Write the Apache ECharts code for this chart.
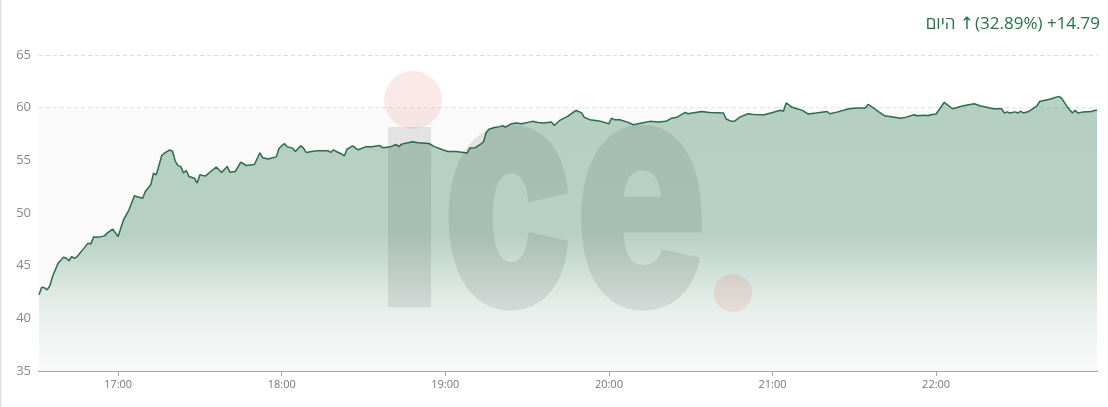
<!DOCTYPE html>
<html>
<head>
<meta charset="utf-8">
<script src="https://cdn.jsdelivr.net/npm/echarts@6/dist/echarts.min.js"></script>
<style>
html,body{margin:0;padding:0;background:#fff;}
#chart{width:1108px;height:407px;}
</style>
</head>
<body>
<div id="chart"></div>
<script>
const titleWord = 'היום';
const titleArrow = '↑';
const titleChange = '(32.89%) +14.79';
const tickLabels = ['17:00','18:00','19:00','20:00','21:00','22:00'];
const yTicks = [35, 40, 45, 50, 55, 60, 65];
const times = [
'16:31','16:32','16:33','16:34','16:35','16:36','16:38','16:40','16:41','16:42','16:43','16:44','16:45','16:47','16:49','16:50','16:51','16:53','16:55','16:56','16:58',
'17:00','17:02','17:04','17:06','17:07','17:09','17:10','17:12','17:13','17:14','17:16','17:17','17:19','17:20','17:21','17:22','17:23','17:24','17:25','17:26','17:28','17:29','17:30','17:32','17:34','17:36','17:38','17:40','17:41','17:43','17:45','17:47','17:50','17:52','17:53','17:55','17:58','17:59',
'18:01','18:02','18:04','18:05','18:07','18:08','18:09','18:11','18:13','18:17','18:18','18:19','18:20','18:22','18:23','18:24','18:26','18:28','18:31','18:33','18:36','18:37','18:40','18:42','18:43','18:44','18:48','18:50','18:54','18:56','18:59',
'19:01','19:04','19:08','19:09','19:11','19:13','19:14','19:15','19:16','19:18','19:20','19:21','19:22','19:24','19:26','19:28','19:32','19:34','19:36','19:39','19:40','19:42','19:45','19:47','19:48','19:50','19:51','19:53','19:57',
'20:00','20:01','20:02','20:04','20:07','20:09','20:12','20:15','20:18','20:21','20:23','20:25','20:28','20:29','20:34','20:37','20:42','20:43','20:45','20:46','20:48','20:51','20:53','20:57',
'21:00','21:03','21:04','21:05','21:07','21:09','21:11','21:13','21:16','21:20','21:21','21:24','21:28','21:31','21:34','21:35','21:37','21:39','21:41','21:43','21:47','21:49','21:52','21:53','21:56','21:57','21:58',
'22:00','22:03','22:06','22:10','22:14','22:16','22:21','22:24','22:25','22:26','22:27','22:29','22:30','22:31','22:32','22:34','22:37','22:38','22:42','22:45','22:46','22:48','22:50','22:51','22:52','22:54','22:57','22:58','22:59'
];
const prices = [
42.23,42.96,42.90,42.70,43.10,44.00,45.24,45.80,45.70,45.46,45.87,45.70,45.87,46.50,47.14,47.05,47.71,47.71,47.83,48.09,48.47,
47.77,49.35,50.30,51.63,51.55,51.40,52.04,52.68,53.79,53.63,55.43,55.69,56.00,55.84,54.90,54.50,54.40,53.79,54.04,53.47,53.30,52.84,53.63,53.50,53.94,54.36,53.85,54.42,53.88,53.94,54.83,54.51,54.60,55.72,55.25,55.12,55.33,56.13,
56.60,56.30,56.16,55.84,56.38,56.16,55.75,55.84,55.90,55.90,55.75,56.00,55.84,55.60,55.43,56.07,56.38,56.00,56.30,56.30,56.40,56.20,56.30,56.50,56.30,56.54,56.76,56.67,56.60,56.30,56.00,
55.84,55.84,55.69,56.16,56.20,56.55,56.75,57.65,57.95,58.12,58.20,58.28,58.15,58.44,58.54,58.47,58.70,58.60,58.54,58.63,58.30,58.80,59.20,59.57,59.73,59.50,59.08,58.86,58.70,
58.47,59.00,58.86,58.86,58.60,58.38,58.54,58.70,58.63,58.70,59.00,59.10,59.55,59.42,59.64,59.55,59.50,58.92,58.70,58.70,59.10,59.42,59.36,59.32,
59.55,59.75,59.65,60.45,60.07,59.90,59.74,59.40,59.50,59.64,59.42,59.60,59.90,59.97,59.97,60.31,59.97,59.60,59.24,59.17,59.00,59.10,59.32,59.24,59.27,59.24,59.32,
59.40,60.51,59.90,60.18,60.37,60.18,59.90,59.90,59.50,59.60,59.50,59.60,59.50,59.64,59.50,59.64,60.18,60.59,60.82,61.07,60.90,60.12,59.50,59.74,59.50,59.60,59.64,59.74,59.76
];

function toMin(s){ const p = s.split(':'); return (+p[0]) * 60 + (+p[1]); }
function fmt(m){ const h = Math.floor(m / 60), mm = m % 60; return h + ':' + (mm < 10 ? '0' : '') + mm; }
const seriesData = times.map((t, i) => [toMin(t), prices[i]]);
const tickMins = tickLabels.map(toMin);
const yMin = yTicks[0], yMax = yTicks[yTicks.length - 1];

const green = '#237448';
const chart = echarts.init(document.getElementById('chart'));
chart.setOption({
  backgroundColor: '#ffffff',
  animation: false,
  title: {
    text: '{w|' + titleWord + '} {a|' + titleArrow + '}{c|' + titleChange + '}',
    right: 3,
    top: 11,
    textStyle: {
      color: green, fontSize: 17, fontWeight: 'normal', fontFamily: 'Open Sans',
      rich: {
        w: { color: green, fontSize: 17, fontFamily: 'Open Sans' },
        a: { color: green, fontSize: 17, fontFamily: 'DejaVu Sans', padding: [0, 1, 0, 0] },
        c: { color: green, fontSize: 17, fontFamily: 'Open Sans' }
      }
    }
  },
  grid: { left: 39, right: 11, top: 55, bottom: 36 },
  xAxis: {
    type: 'value',
    min: seriesData[0][0],
    max: seriesData[seriesData.length - 1][0],
    axisLine: { show: true, onZero: false, lineStyle: { color: '#a8a8a8', width: 2 } },
    axisTick: { show: true, customValues: tickMins, length: 5, lineStyle: { color: '#a8a8a8' } },
    axisLabel: {
      customValues: tickMins,
      formatter: v => fmt(v),
      color: '#777', fontSize: 11, fontFamily: 'Open Sans', margin: 8
    },
    splitLine: { show: false }
  },
  yAxis: {
    type: 'value',
    min: yMin, max: yMax, interval: 5,
    axisLine: { show: false },
    axisTick: { show: false },
    axisLabel: { color: '#8a8a8a', fontSize: 13, fontFamily: 'Open Sans', margin: 8 },
    splitLine: { show: true, lineStyle: { color: '#d9dcdb', type: [4, 3], width: 1 } }
  },
  series: [
    {
      type: 'line',
      data: [],
      z: 0,
      silent: true,
      markArea: {
        silent: true,
        itemStyle: { color: '#fafafa' },
        data: [[{ yAxis: 35 }, { yAxis: 60 }]]
      }
    },
    {
      type: 'line',
      data: seriesData,
      z: 3,
      showSymbol: false,
      smooth: false,
      lineStyle: { color: '#2a6d4b', width: 1.5 },
      areaStyle: {
        opacity: 1,
        color: new echarts.graphic.LinearGradient(0, 0, 0, 1, [
          { offset: 0, color: 'rgba(40,120,80,0.33)' },
          { offset: 0.5, color: 'rgba(40,120,80,0.32)' },
          { offset: 0.75, color: 'rgba(40,120,80,0.10)' },
          { offset: 1, color: 'rgba(40,120,80,0.0)' }
        ])
      }
    }
  ],
  graphic: [
    { type: 'rect', left: 0, top: 0, z: 100, shape: { width: 1.5, height: 407 }, style: { fill: '#e2e2e2' } },
    { type: 'text', x: 377, y: 208, scaleX: 0.666, z: 50, silent: true,
      style: { text: 'ıce', fontSize: 330, fontWeight: 900, fontFamily: 'Inter', fill: 'rgba(50,50,50,0.11)', align: 'left', verticalAlign: 'middle' } },
    { type: 'circle', z: 50, silent: true, shape: { cx: 413, cy: 100, r: 29 }, style: { fill: 'rgba(220,70,70,0.12)' } },
    { type: 'circle', z: 50, silent: true, shape: { cx: 733, cy: 293, r: 19 }, style: { fill: 'rgba(220,70,70,0.12)' } }
  ]
});
</script>
</body>
</html>
